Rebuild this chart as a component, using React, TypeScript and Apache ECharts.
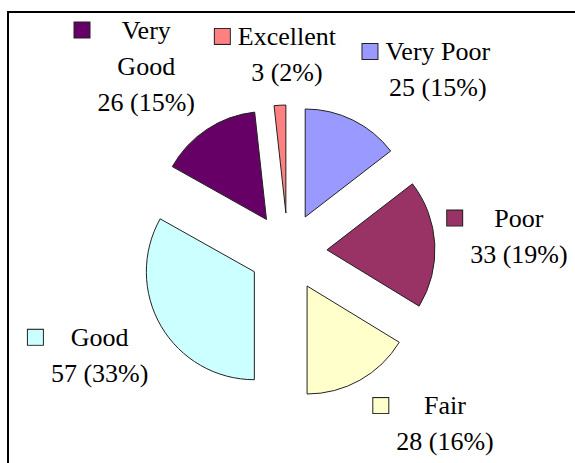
import React, { useEffect, useRef } from 'react';
import * as echarts from 'echarts';

// ---- data ----
const categories = ['Very Poor', 'Poor', 'Fair', 'Good', 'Very Good', 'Excellent'];
const values = [25, 33, 28, 57, 26, 3];
const colors = ['#9999FF', '#993366', '#FFFFCC', '#CCFFFF', '#660066', '#FF8080'];
const wrappedNames = ['Very Good'];

// ---- label placement (distance from pie centre, angular nudge in degrees) ----
const labelDist = [229, 220, 225, 225, 241, 198];
const labelAngleShift = [11, -1, -11, 3, -6, -0.5];

const CX = 288;
const CY = 252;
const R = 108;
const OFFSET = 39;
const FONT = 'Liberation Serif';

export default function App() {
  const ref = useRef<HTMLDivElement>(null);

  useEffect(() => {
    if (!ref.current) return;
    const chart = echarts.init(ref.current, null, { renderer: 'svg' });

    const total = values.reduce((a, b) => a + b, 0);
    const midAngles: number[] = [];
    let acc = 0;
    values.forEach((v) => {
      const a = (v / total) * 360;
      midAngles.push(acc + a / 2);
      acc += a;
    });

    const rich: any = {
      t: { fontFamily: FONT, fontSize: 26, color: '#000', align: 'center', lineHeight: 36 },
      g: { width: 8, height: 15, align: 'left', lineHeight: 36 },
      sp: { width: 23, height: 15, align: 'left', lineHeight: 36 },
    };
    colors.forEach((c, i) => {
      rich['k' + i] = {
        width: 15,
        height: 15,
        backgroundColor: c,
        borderColor: '#222',
        borderWidth: 1,
        align: 'left',
        lineHeight: 36,
      };
    });

    const sliceData = categories.map((name, i) => ({
      name,
      value: values[i],
      selected: true,
      itemStyle: { color: colors[i], borderColor: '#222', borderWidth: 1 },
      select: { itemStyle: { color: colors[i], borderColor: '#222', borderWidth: 1 } },
    }));

    const labelData = categories.map((name, i) => ({ name, value: values[i] }));

    chart.setOption({
      animation: false,
      backgroundColor: 'transparent',
      series: [
        {
          type: 'pie',
          center: [CX, CY],
          radius: [0, R],
          startAngle: 90,
          clockwise: true,
          selectedMode: 'multiple',
          selectedOffset: OFFSET,
          avoidLabelOverlap: false,
          data: sliceData,
          silent: true,
          emphasis: { disabled: true },
          label: { show: false },
          labelLine: { show: false },
        },
        {
          type: 'pie',
          center: [CX, CY],
          radius: [0, R],
          startAngle: 90,
          clockwise: true,
          selectedMode: false,
          silent: true,
          avoidLabelOverlap: false,
          data: labelData,
          itemStyle: { color: 'rgba(0,0,0,0)', borderWidth: 0 },
          emphasis: { disabled: true },
          labelLine: { show: false, length: 0, length2: 0 },
          label: {
            show: true,
            position: 'outside',
            fontFamily: FONT,
            fontSize: 26,
            lineHeight: 36,
            color: '#000',
            rich,
            formatter: (p: any) => {
              const i = p.dataIndex;
              const pct = Math.round(p.percent);
              const nameLines = wrappedNames.includes(p.name) ? p.name.split(' ') : [p.name];
              const lines = [...nameLines, `${p.value} (${pct}%)`];
              return lines
                .map((l: string, li: number) => (li === 0 ? `{k${i}|}{g|}{t|${l}}` : `{sp|}{t|${l}}`))
                .join('\n');
            },
          },
          labelLayout: (params: any) => {
            const i = params.dataIndex;
            const a = ((midAngles[i] + labelAngleShift[i]) * Math.PI) / 180;
            return {
              x: CX + labelDist[i] * Math.sin(a),
              y: CY - labelDist[i] * Math.cos(a),
              align: 'center',
              verticalAlign: 'middle',
            };
          },
        },
      ],
    });

    return () => chart.dispose();
  }, []);

  return (
    <div
      style={{
        position: 'fixed',
        left: 0,
        top: 0,
        width: 575,
        height: 463,
        overflow: 'hidden',
        background: '#fff',
      }}
    >
      <div
        style={{
          position: 'absolute',
          left: 7,
          top: 11,
          width: 620,
          height: 520,
          border: '2px solid #000',
          boxSizing: 'border-box',
        }}
      />
      <div ref={ref} style={{ position: 'absolute', left: 0, top: 0, width: 575, height: 463 }} />
    </div>
  );
}
